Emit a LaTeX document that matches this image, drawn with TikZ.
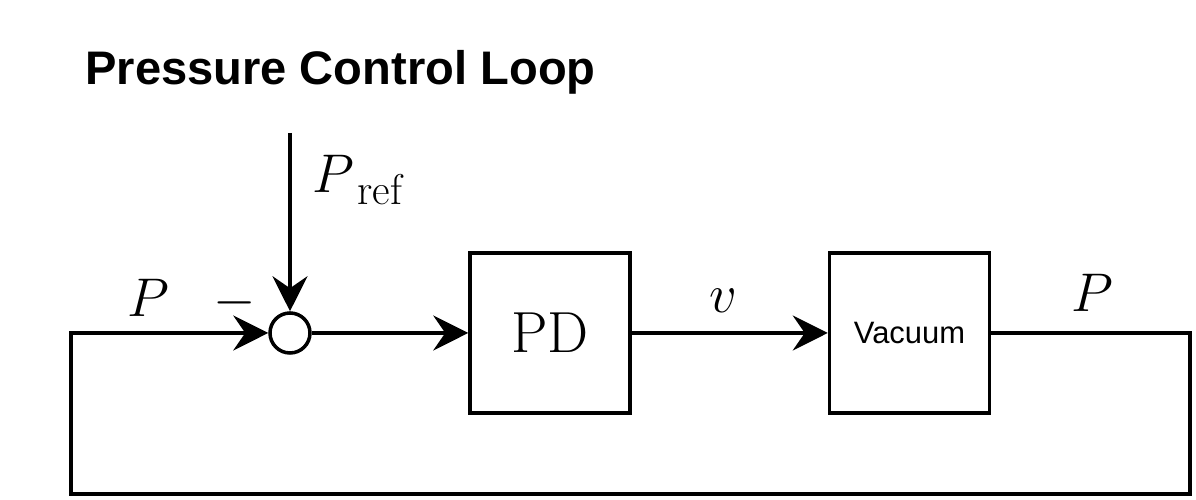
\RequirePackage{fix-cm}
\documentclass[tikz,border=0pt]{standalone}
\usepackage{fontspec}
\setsansfont{Liberation Sans}
\usepackage{tikz}
\usetikzlibrary{positioning}
\usetikzlibrary{arrows.meta}
\tikzset{>={Stealth[length=7mm, width=7mm, inset=2.4mm]}}
\tikzset{
  block/.style={draw, line width=2pt, minimum size=3.2cm, inner sep=0pt},
  signal/.style={font=\fontsize{31}{36}\selectfont, inner sep=0pt},
  wire/.style={line width=2pt},
}

\begin{document}
\begin{tikzpicture}
  % --- Definitions ---
  \def\yl{3.34} % Height of the main signal line
  \useasboundingbox (0,0) rectangle (23.92,10);

  % --- 1. Title ---
  \node[font=\sffamily\bfseries\fontsize{26.8}{32}\selectfont, anchor=base west, inner sep=0pt] (title) at (1.70, 8.3) {Pressure Control Loop};

  % --- 2. Summing Junction and Blocks ---
  \node[circle, draw, line width=2pt, minimum size=0.8cm, inner sep=0pt] (sum) at (5.8, \yl) {};
  \node[block] (pd) at (11.0, \yl) {\fontsize{33}{38}\selectfont PD};
  \node[block, right=3.92cm of pd, font=\sffamily\fontsize{17.6}{20}\selectfont] (vac) {Vacuum};

  % --- 3. Loop Corners ---
  \coordinate (ref) at (5.8, 7.34);   % Top of reference input
  \coordinate (fbR) at (23.8, \yl);   % Right (output)
  \coordinate (fbRB) at (23.8, 0.12); % Bottom Right
  \coordinate (fbLB) at (1.42, 0.12); % Bottom Left
  \coordinate (fbL) at (1.42, \yl);   % Left (feedback)

  % --- 4. Signals ---
  \draw[wire, ->] (ref) -- (sum);
  \draw[wire, ->] (sum) -- (pd);
  \draw[wire, ->] (pd) -- (vac);
  \draw[wire, ->] (vac.east) -- (fbR) -- (fbRB) -- (fbLB) -- (fbL) -- (sum.west);

  % --- 5. Labels ---
  \node[signal, anchor=base] (pin) at (2.96, 3.66) {$P$};
  \node[signal, anchor=base] (minus) at (4.7, 3.66) {$-$};
  \node[signal, anchor=base west] (pref) at (6.24, 6.14) {$P_{\kern0.22cm\mbox{\fontsize{24.5}{28}\selectfont ref}}$};
  \node[signal, anchor=base] (vel) at (14.46, 3.74) {$v$};
  \node[signal, anchor=base] (pout) at (21.84, 3.76) {$P$};
\end{tikzpicture}
\end{document}
